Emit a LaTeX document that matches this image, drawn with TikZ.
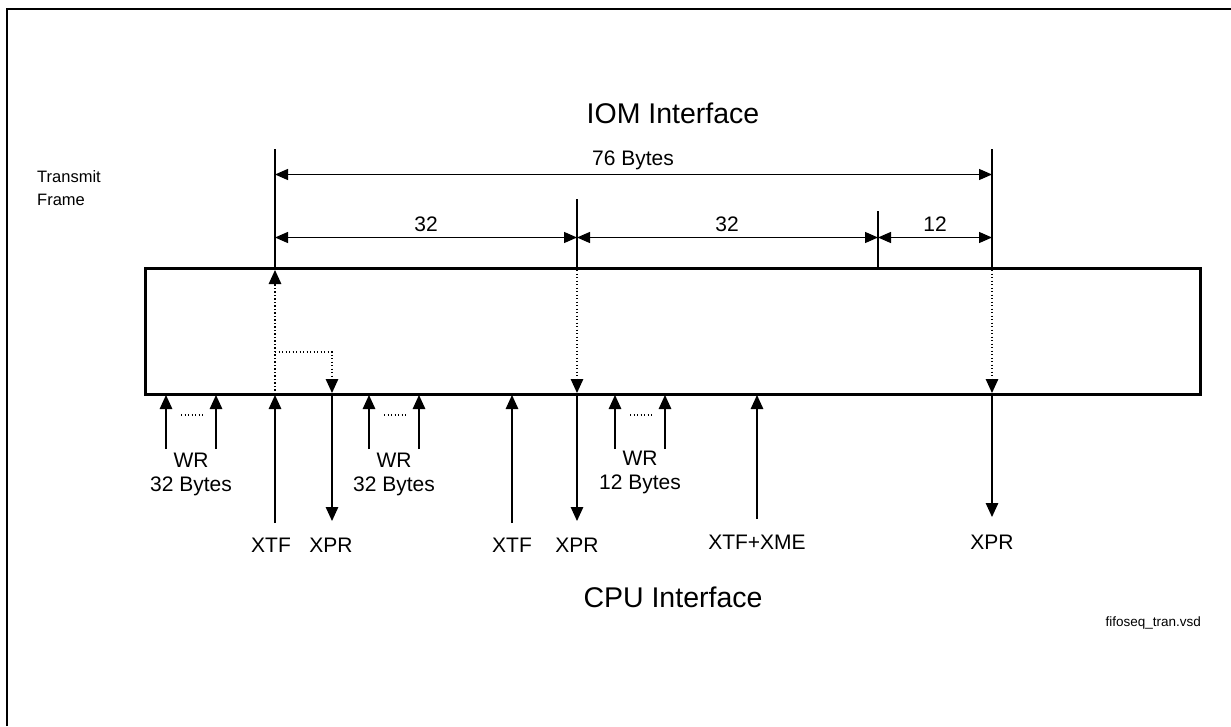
\documentclass[tikz,border=0pt]{standalone}
\usepackage{fontspec}
\setmainfont{Liberation Sans}
\usetikzlibrary{arrows.meta}
\newcommand{\fsz}[1]{\fontsize{#1}{#1}\selectfont}
\begin{document}
\begin{tikzpicture}[x=1pt,y=-1pt,
  thin line/.style={line width=1.3pt},
  tip/.style={-{Triangle[length=14pt,width=12.5pt]}},
  dimarrow/.style={thin line,{Triangle[length=13pt,width=11pt]}-{Triangle[length=13pt,width=11pt]}},
  dots/.style={thin line,dash pattern=on 1.3pt off 2.2pt},
  lbl/.style={inner sep=0pt,font=\fsz{21}},
  big/.style={inner sep=0pt,font=\fsz{28.5}},
]
\useasboundingbox (0,0) rectangle (1231,726);
% frame
\draw[line width=2pt] (6.5,726) -- (6.5,9) -- (1231,9);

% titles
\node[big] (iom) at (673,113) {IOM Interface};
\node[big] (cpu) at (673,597) {CPU Interface};
\node[inner sep=0pt,font=\fsz{16.5},align=left,anchor=west] (tf) at (37,188) {Transmit\\[7pt]Frame};
\node[inner sep=0pt,font=\fsz{13.5},anchor=east] (file) at (1201,623) {fifoseq\_tran.vsd};

% FIFO box
\draw[line width=3pt] (145,268.5) rectangle (1200,394);
\coordinate (top) at (0,268.5);
\coordinate (bot) at (0,394);

% dimension lines (top)
\coordinate (a1) at (275,149);
\coordinate (a2) at (577,199);
\coordinate (a3) at (878,211);
\coordinate (a4) at (992,149);
\draw[thin line] (a1) -- (a1 |- top);
\draw[thin line] (a2) -- (a2 |- top);
\draw[thin line] (a3) -- (a3 |- top);
\draw[thin line] (a4) -- (a4 |- top);

\draw[dimarrow] (275,174.5) -- (992,174.5);
\node[lbl] (b76) at (633,160) {76 Bytes};
\draw[dimarrow] (275,237.5) -- (577,237.5);
\draw[dimarrow] (577,237.5) -- (878,237.5);
\draw[dimarrow] (878,237.5) -- (992,237.5);
\node[lbl] (d1) at (426,224.5) {32};
\node[lbl] (d2) at (727,224.5) {32};
\node[lbl] (d3) at (935,224.5) {12};

% dotted internal paths
\draw[dots] (275,394) -- (275,282);
\draw[tip,thin line] (275,285) -- (275,270);
\draw[dots] (275,352) -- (332,352) -- (332,382);
\draw[tip,thin line] (332,379) -- (332,393);
\draw[dots] (577,270) -- (577,382);
\draw[tip,thin line] (577,379) -- (577,393);
\draw[dots] (992,270) -- (992,382);
\draw[tip,thin line] (992,379) -- (992,393);

% WR groups
\foreach \xa/\xb/\lab/\n/\wy in {166/216/32 Bytes/1/460, 369/419/32 Bytes/2/460, 615/665/12 Bytes/3/458}{
  \draw[thin line,tip] (\xa,449) -- (\xa,395);
  \draw[thin line,tip] (\xb,449) -- (\xb,395);
  \draw[dots] (\xa+15,415) -- (\xb-13,415);
  \node[lbl] (wr\n) at ({(\xa+\xb)/2},\wy) {WR};
  \node[lbl] (wb\n) at ({(\xa+\xb)/2},\wy+26) {\lab};
}

% XTF / XPR arrows
\draw[thin line,tip] (275,523) -- (275,395);
\node[lbl] (xtf1) at (271,545) {XTF};
\draw[thin line,tip] (332,394) -- (332,521);
\node[lbl] (xpr1) at (331,545) {XPR};
\draw[thin line,tip] (512,523) -- (512,395);
\node[lbl] (xtf2) at (512,545) {XTF};
\draw[thin line,tip] (577,394) -- (577,521);
\node[lbl] (xpr2) at (577,545) {XPR};
\draw[thin line,tip] (757,519) -- (757,395);
\node[lbl] (xtfxme) at (757,542) {XTF+XME};
\draw[thin line,tip] (992,394) -- (992,517);
\node[lbl] (xpr3) at (992,542) {XPR};
\end{tikzpicture}
\end{document}
